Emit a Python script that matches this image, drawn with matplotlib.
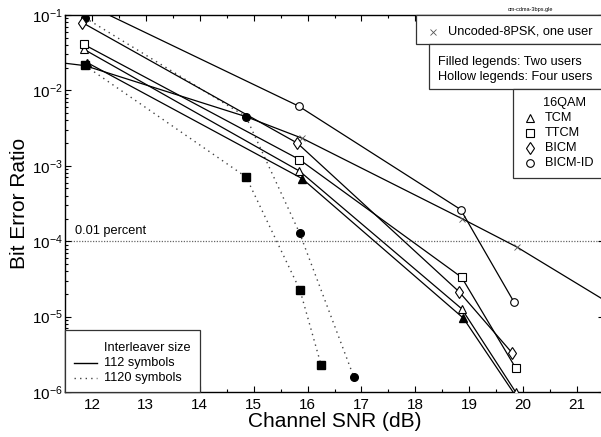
import numpy as np
import matplotlib
matplotlib.use('Agg')
import matplotlib.pyplot as plt
from matplotlib.patches import Rectangle
from matplotlib.ticker import MultipleLocator, LogLocator

plt.rcParams['font.family'] = ['Liberation Sans', 'DejaVu Sans']
plt.rcParams['mathtext.fontset'] = 'custom'
plt.rcParams['mathtext.rm'] = 'Liberation Sans'

# four users, 112 symbols (hollow, solid)
tcm4_x = [11.85, 15.85, 18.86, 19.86]
tcm4_y = [0.0351, 8.51e-4, 1.27e-5, 1.0e-6]
ttcm4_x = [11.85, 15.85, 18.86, 19.86]
ttcm4_y = [0.0407, 1.21e-3, 3.31e-5, 2.09e-6]
bicm4_x = [11.82, 15.81, 18.81, 19.80]
bicm4_y = [0.0794, 2.0e-3, 2.14e-5, 3.27e-6]
bicmid4_x = [11.87, 15.835, 18.84, 19.83]
bicmid4_y = [0.142, 6.19e-3, 2.63e-4, 1.56e-5]
# two users, 112 symbols (filled, solid)
tcm2_x = [11.91, 15.90, 18.89, 19.86]
tcm2_y = [0.0234, 6.76e-4, 9.55e-6, 8.9e-7]
# two users, 1120 symbols (filled, dotted)
ttcm2_x = [11.87, 14.86, 15.86, 16.25]
ttcm2_y = [0.0214, 7.1e-4, 2.24e-5, 2.3e-6]
bicmid2_x = [11.87, 14.855, 15.855, 16.856]
bicmid2_y = [0.092, 4.5e-3, 1.27e-4, 1.6e-6]
# uncoded 8PSK, one user
unc_x = [10.87, 11.87, 14.86, 15.90, 18.86, 19.88, 21.86]
unc_y = [0.026, 0.0213, 4.48e-3, 2.32e-3, 2.0e-4, 8.4e-5, 1.16e-5]

target_ber = 1e-4

fig = plt.figure(figsize=(6.01, 4.37), dpi=100)
W, H = 601.0, 437.0
L, R, T, B = 65, 604, 15, 392
ax = fig.add_axes([L / W, 1 - B / H, (R - L) / W, (B - T) / H])


def axc(px, py):
    # pixel position -> axes fraction (for the legend boxes)
    return (px - L) / (R - L), (B - py) / (B - T)


lw = 0.9
ms = 5.5
dot = (0, (1, 3))


def msize(mk):
    return 6 if mk == 'd' else ms


ax.axhline(target_ber, color='#666666', lw=0.9, ls=(0, (1, 1.2)), zorder=1)
ax.text(11.68, target_ber * 1.12, '0.01 percent', fontsize=9.2, va='bottom', ha='left')

ax.plot(unc_x, unc_y, color='black', lw=lw, marker='x', ms=4, mew=0.6, mec='#555555', zorder=2)
ax.plot(ttcm2_x, ttcm2_y, color='#444444', lw=1.0, ls=dot, marker='s', ms=ms, mfc='black', mec='black', zorder=3)
ax.plot(bicmid2_x, bicmid2_y, color='#444444', lw=1.0, ls=dot, marker='o', ms=ms, mfc='black', mec='black', zorder=3)
ax.plot(tcm2_x, tcm2_y, color='black', lw=lw, marker='^', ms=ms, mfc='black', mec='black', zorder=3)
for xs, ys, mk in [(tcm4_x, tcm4_y, '^'), (ttcm4_x, ttcm4_y, 's'),
                   (bicm4_x, bicm4_y, 'd'), (bicmid4_x, bicmid4_y, 'o')]:
    ax.plot(xs, ys, color='black', lw=lw, marker=mk, ms=msize(mk),
            mfc='white', mec='black', mew=0.8, zorder=4)

ax.set_yscale('log')
ax.set_xlim(11.5, 21.5)
ax.set_ylim(1e-6, 1e-1)
ax.xaxis.set_major_locator(MultipleLocator(1))
ax.xaxis.set_minor_locator(MultipleLocator(0.5))
ax.yaxis.set_major_locator(LogLocator(base=10, numticks=10))
ax.yaxis.set_minor_locator(LogLocator(base=10, subs=np.arange(2, 10), numticks=10))
ax.tick_params(which='both', direction='in', top=True, right=True, labelsize=11, width=0.8)
ax.tick_params(which='major', length=4)
ax.tick_params(which='minor', length=2)
ax.tick_params(axis='y', pad=1.5)
ax.tick_params(axis='x', pad=4)
for s in ax.spines.values():
    s.set_linewidth(1.0)
ax.set_xlabel('Channel SNR (dB)', fontsize=15, labelpad=0)
ax.set_ylabel('Bit Error Ratio', fontsize=15, labelpad=2)

fig.text(530 / W, 1 - 10 / H, 'cm-cdma-3bps.gle', fontsize=4, ha='center', va='center')

# legend boxes
boxes = [(416, 15, 44), (429, 44, 89), (513, 89, 178)]
for px, top, bot in boxes:
    x0, y0 = axc(px, bot)
    x1, y1 = axc(R, top)
    ax.add_patch(Rectangle((x0, y0), x1 - x0, y1 - y0, transform=ax.transAxes,
                           fc='white', ec='#333333', lw=0.9, zorder=5, clip_on=False))
x0, y0 = axc(65, 392)
x1, y1 = axc(200, 330)
ax.add_patch(Rectangle((x0, y0), x1 - x0, y1 - y0, transform=ax.transAxes,
                       fc='white', ec='#333333', lw=0.9, zorder=5, clip_on=False))

tkw = dict(transform=ax.transAxes, fontsize=9.2, va='center', ha='left', zorder=6)
ax.plot(*axc(433, 32), transform=ax.transAxes, marker='x', ms=4.5, mew=0.6, color='#555555', zorder=6, clip_on=False)
ax.text(*axc(448, 32), 'Uncoded-8PSK, one user', **tkw)
ax.text(*axc(438, 62), 'Filled legends: Two users', **tkw)
ax.text(*axc(438, 77), 'Hollow legends: Four users', **tkw)
ax.text(*axc(543, 103), '16QAM', **tkw)
for py, mk, lab in [(118, '^', 'TCM'), (133, 's', 'TTCM'), (148, 'd', 'BICM'), (163, 'o', 'BICM-ID')]:
    ax.plot(*axc(530, py), transform=ax.transAxes, marker=mk, ms=msize(mk),
            mfc='white', mec='black', mew=0.8, zorder=6, clip_on=False)
    ax.text(*axc(545, py), lab, **tkw)

ax.text(*axc(104, 347.7), 'Interleaver size', **tkw)
ax.text(*axc(104, 362.7), '112 symbols', **tkw)
ax.text(*axc(104, 377.7), '1120 symbols', **tkw)
for py, ls in [(362.7, '-'), (377.7, dot)]:
    xa, ya = axc(74, py)
    xb, _ = axc(97, py)
    ax.plot([xa, xb], [ya, ya], transform=ax.transAxes, color='black' if ls == '-' else '#444444',
            lw=1.0, ls=ls, zorder=6)

fig.savefig('out.png', dpi=100)
